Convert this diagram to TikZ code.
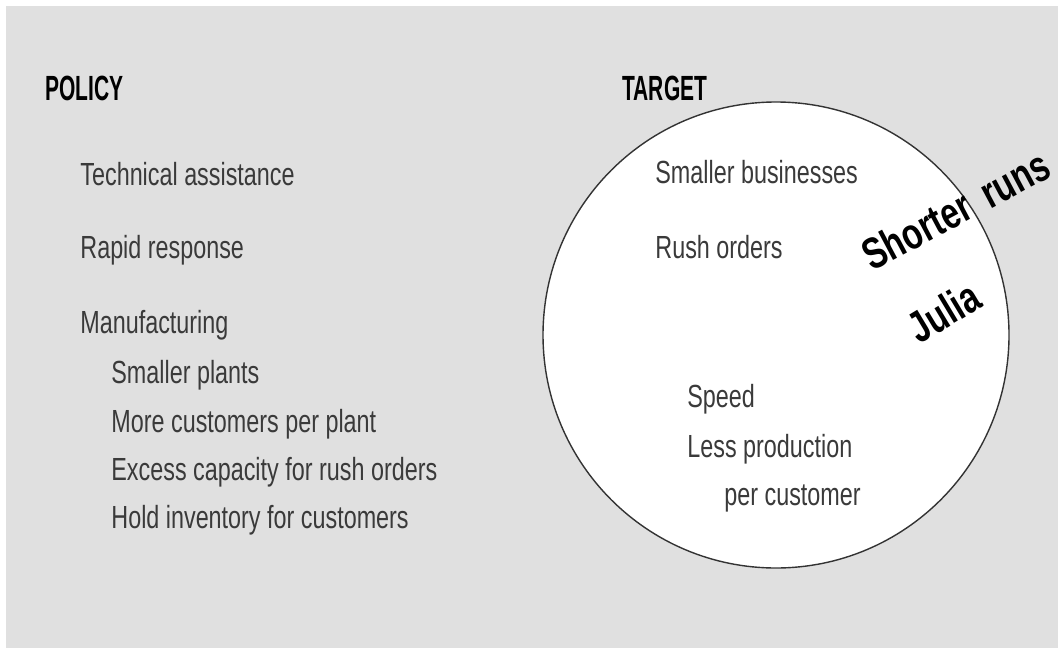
\documentclass[tikz,border=0pt]{standalone}
\usepackage{fontspec}
\setmainfont{Liberation Sans}[FakeStretch=0.73]
\newfontfamily\headfont{Liberation Sans}[FakeStretch=0.6]
\newfontfamily\scrawlfont{Liberation Sans}[FakeStretch=0.75]
\usetikzlibrary{positioning}
\definecolor{panelgray}{HTML}{E0E0E0}
\definecolor{textgray}{HTML}{3A3A3A}

\begin{document}
\begin{tikzpicture}[x=0.5pt, y=-0.5pt,
        every node/.style={inner sep=0pt, anchor=base west},
        head/.style={font=\headfont\fontsize{17.5}{20}\selectfont\bfseries, text=black},
        item/.style={font=\fontsize{16}{19}\selectfont, text=textgray},
        scrawl/.style={font=\scrawlfont\fontsize{22}{25}\selectfont\bfseries, text=black}
    ]
        \useasboundingbox (0,0) rectangle (1058,648);
        \clip (0,0) rectangle (1058,648);

        % grey panel
        \fill[panelgray] (6,6) rectangle (1058,648);

        % POLICY column
        \node[head] (policy) at (45,100) {POLICY};
        \node[item] (assist) at (80,185) {Technical assistance};
        \node[item] (rapid) at (80,258) {Rapid response};
        \node[item] (manuf) at (80,333) {Manufacturing};
        \node[item] (plants) at (111,383) {Smaller plants};
        \node[item] (percust) at (111,432) {More customers per plant};
        \node[item] (excess) at (111,480) {Excess capacity for rush orders};
        \node[item] (hold) at (111,528) {Hold inventory for customers};

        % TARGET - white circle
        \node[head] (target) at (622,100) {TARGET};
        \node[draw=black!80, line width=0.7pt, fill=white, circle, minimum size=233pt,
              anchor=center] (tcircle) at (776,335) {};
        \node[item] (smallbiz) at (655,183) {Smaller businesses};
        \node[item] (rush) at (655,258) {Rush orders};
        \node[item] (speed) at (687,407) {Speed};
        \node[item] (lessprod) at (687,457) {Less production};
        \node[item] (custline) at (724,505) {per customer};

        % handwritten-looking notes, tilted
        \node[scrawl, rotate=28] (shorter) at (872,272) {Shorter\hspace{8pt}runs};
        \node[scrawl, rotate=31] (julia) at (919,345) {Julia};

    \end{tikzpicture}
\end{document}
